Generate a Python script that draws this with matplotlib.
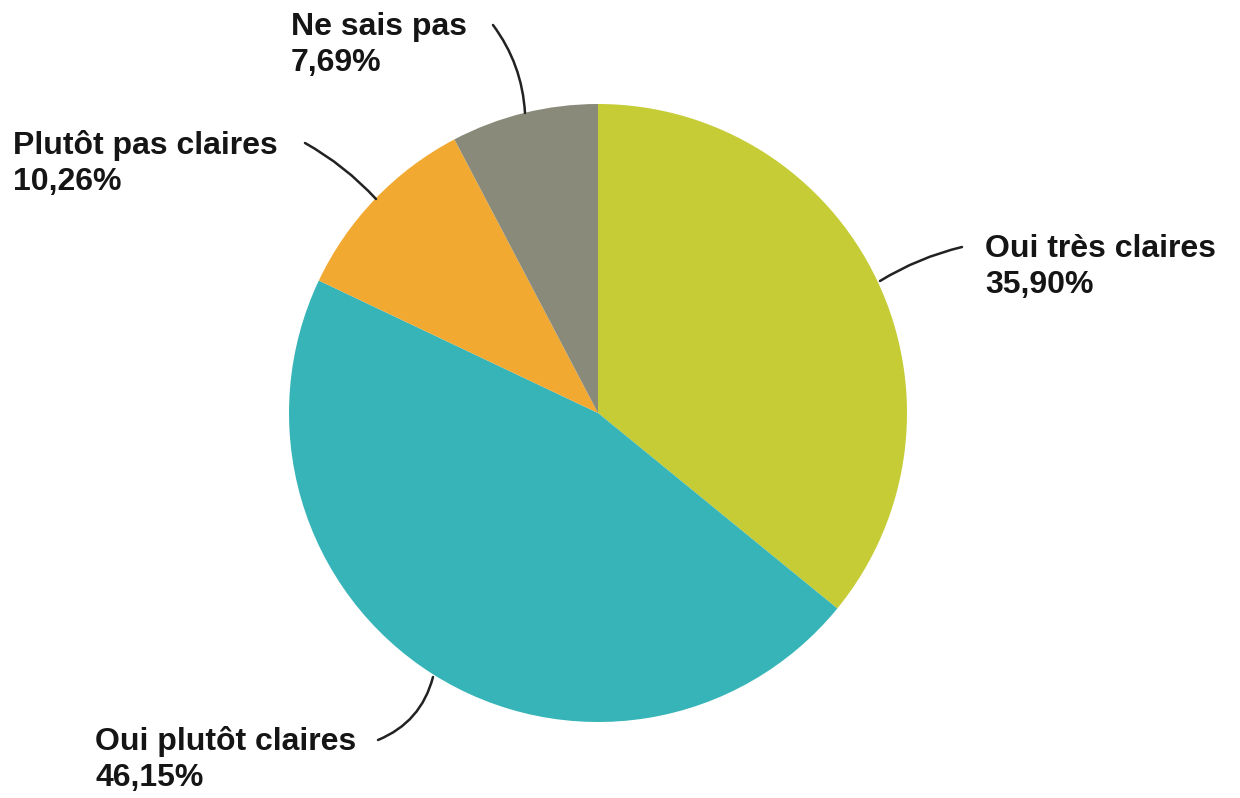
import matplotlib
matplotlib.use("Agg")
import matplotlib.pyplot as plt

labels = ["Oui très claires", "Oui plutôt claires", "Plutôt pas claires", "Ne sais pas"]
values = [35.90, 46.15, 10.26, 7.69]
colors = ["#C5CC36", "#36B4B8", "#F1A931", "#8A8A7A"]

# label layout in pixel space (x, baseline y of first line), leader start/end
W, H = 1240, 798
text_pos = [(985, 257), (95, 750), (13, 154), (291, 35)]
line_start = [(962, 247), (378, 740), (305, 143), (493, 25)]
line_end = [(880, 281), (433, 677), (376, 199), (525, 113)]
line_rad = [0.08, 0.25, -0.08, -0.15]

plt.rcParams["font.family"] = ["Liberation Sans", "DejaVu Sans"]
fig = plt.figure(figsize=(W / 100, H / 100), dpi=100)
ax = fig.add_axes([0, 0, 1, 1])

ax.pie(values, colors=colors, startangle=90, counterclock=False,
       center=(598, H - 413), radius=309, frame=True,
       wedgeprops=dict(linewidth=0))
ax.set_xlim(0, W)
ax.set_ylim(0, H)
ax.set_aspect("equal")
ax.axis("off")

for lab, v, (tx, ty), s, e, r in zip(labels, values, text_pos, line_start, line_end, line_rad):
    pct = f"{v:.2f}%".replace(".", ",")
    ax.text(tx, H - ty, lab, fontsize=23, fontweight="bold", color="#151515", va="baseline")
    ax.text(tx, H - ty - 36, pct, fontsize=23, fontweight="bold", color="#151515", va="baseline")
    ax.annotate("", xy=(e[0], H - e[1]), xytext=(s[0], H - s[1]),
                arrowprops=dict(arrowstyle="-", color="#222222", lw=1.8,
                                connectionstyle=f"arc3,rad={r}", shrinkA=0, shrinkB=0))

fig.savefig("out.png", dpi=100, facecolor="white")
